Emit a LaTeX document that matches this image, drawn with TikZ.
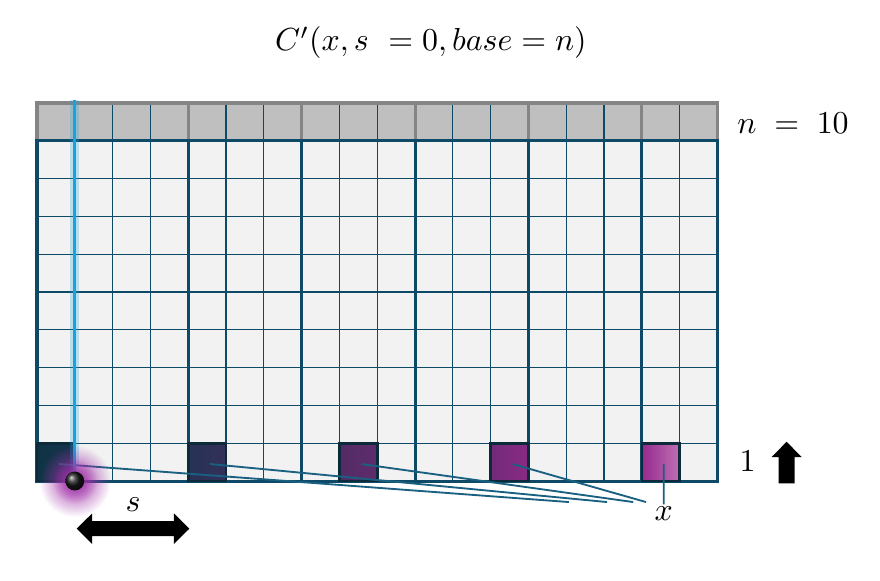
\documentclass[tikz,border=0pt]{standalone}
\usepackage{tikz}
\usetikzlibrary{calc, fadings}
\usepackage{xcolor}

\definecolor{gridblue}{HTML}{0E4A68}
\definecolor{cellgray}{HTML}{F2F2F2}
\definecolor{headgray}{HTML}{BFBFBF}
\definecolor{headline}{HTML}{858585}
\definecolor{sqborder}{HTML}{0C2A3A}
\definecolor{linkblue}{HTML}{1A6080}
\definecolor{beamblue}{HTML}{1BA1DC}
\definecolor{glowpurple}{HTML}{A030A8}
\tikzfading[name=glowfade, inner color=transparent!0, outer color=transparent!100]

\begin{document}
\begin{tikzpicture}[
    thin grid/.style={draw=gridblue, line width=0.9pt},
    thick grid/.style={draw=gridblue, line width=2.3pt},
    head grid/.style={draw=headline, line width=2.3pt},
    sqbox/.style={rectangle, draw=sqborder, line width=2pt, minimum size=1cm, inner sep=0pt, outer sep=0pt},
    link/.style={draw=linkblue, line width=1.4pt},
    label/.style={inner sep=0.5pt, scale=2.4}
]
\useasboundingbox (-0.979,-2.619) rectangle (22.30,12.725);

% Grid
\fill[cellgray] (0,0) rectangle (18,9);
\fill[headgray] (0,9) rectangle (18,10);
\foreach \i in {1,...,17} \draw[thin grid] (\i,0) -- (\i,10);
\foreach \j in {1,...,8} \draw[thin grid] (0,\j) -- (18,\j);
\foreach \i in {4,7,10,13,16} {
    \draw[thick grid] (\i,0) -- (\i,9);
    \draw[head grid] (\i,9) -- (\i,10);
}
\draw[head grid, line join=miter] (0,9) -- (0,10) -- (18,10) -- (18,9);
\draw[thick grid] (0,0) rectangle (18,9);

% Squares
\node[sqbox, left color={rgb,255:red,14;green,52;blue,68}, right color={rgb,255:red,24;green,50;blue,78}] (sq0) at (0.5,0.5) {};
\node[sqbox, left color={rgb,255:red,38;green,50;blue,84}, right color={rgb,255:red,52;green,48;blue,90}] (sq4) at (4.5,0.5) {};
\node[sqbox, left color={rgb,255:red,82;green,44;blue,100}, right color={rgb,255:red,94;green,44;blue,108}] (sq8) at (8.5,0.5) {};
\node[sqbox, left color={rgb,255:red,114;green,42;blue,120}, right color={rgb,255:red,138;green,42;blue,132}] (sq12) at (12.5,0.5) {};
\node[sqbox, left color={rgb,255:red,149;green,42;blue,142}, right color={rgb,255:red,192;green,112;blue,180}] (sq16) at (16.5,0.5) {};

% Labels
\node[label] (title) at (10.42,11.59) {$C'(x,s\ =0,base=n)$};
\node[label] (nlab) at (20.0,9.47) {$n\;=\;10$};
\node[label] (onelab) at (18.8,0.53) {$1$};
\node[label] (slab) at (2.54,-0.63) {$s$};
\node[label, anchor=north] (xlab) at (16.58,-0.62) {$x$};

% Links
\coordinate (e0) at (14.07,-0.556);
\coordinate (e4) at (15.08,-0.556);
\coordinate (e8) at (15.77,-0.556);
\coordinate (e12) at (16.11,-0.556);
\draw[link] ([shift={(0.08,-0.05)}]sq0.center) -- (e0);
\draw[link] ([shift={(0.08,-0.05)}]sq4.center) -- (e4);
\draw[link] ([shift={(0.08,-0.05)}]sq8.center) -- (e8);
\draw[link] ([shift={(0.08,-0.05)}]sq12.center) -- (e12);
\draw[link] ([shift={(0.08,-0.05)}]sq16.center) -- (xlab.north);

% Beam and dot
\coordinate (beamtop) at (1,10.08);
\coordinate (dot) at (1,0);
\draw[beamblue, line width=7pt, opacity=0.25] (dot) -- (beamtop);
\draw[beamblue, line width=2.4pt] (dot) -- (beamtop);
\fill[glowpurple, path fading=glowfade] (dot) circle (0.95);
\fill[glowpurple, opacity=0.7, path fading=glowfade] (dot) circle (0.6);
\shade[ball color=black!90, opacity=1] (dot) circle (0.25);

% Block arrows
\fill[black] (19.62,-0.06) -- (20.04,-0.06) -- (20.04,0.63) -- (20.23,0.63)
    -- (19.83,1.04) -- (19.43,0.63) -- (19.62,0.63) -- cycle;
\fill[black] (1.05,-1.26) -- (1.46,-0.855) -- (1.46,-1.06) -- (3.62,-1.06) -- (3.62,-0.855)
    -- (4.03,-1.26) -- (3.62,-1.665) -- (3.62,-1.46) -- (1.46,-1.46) -- (1.46,-1.665) -- cycle;

\end{tikzpicture}
\end{document}
